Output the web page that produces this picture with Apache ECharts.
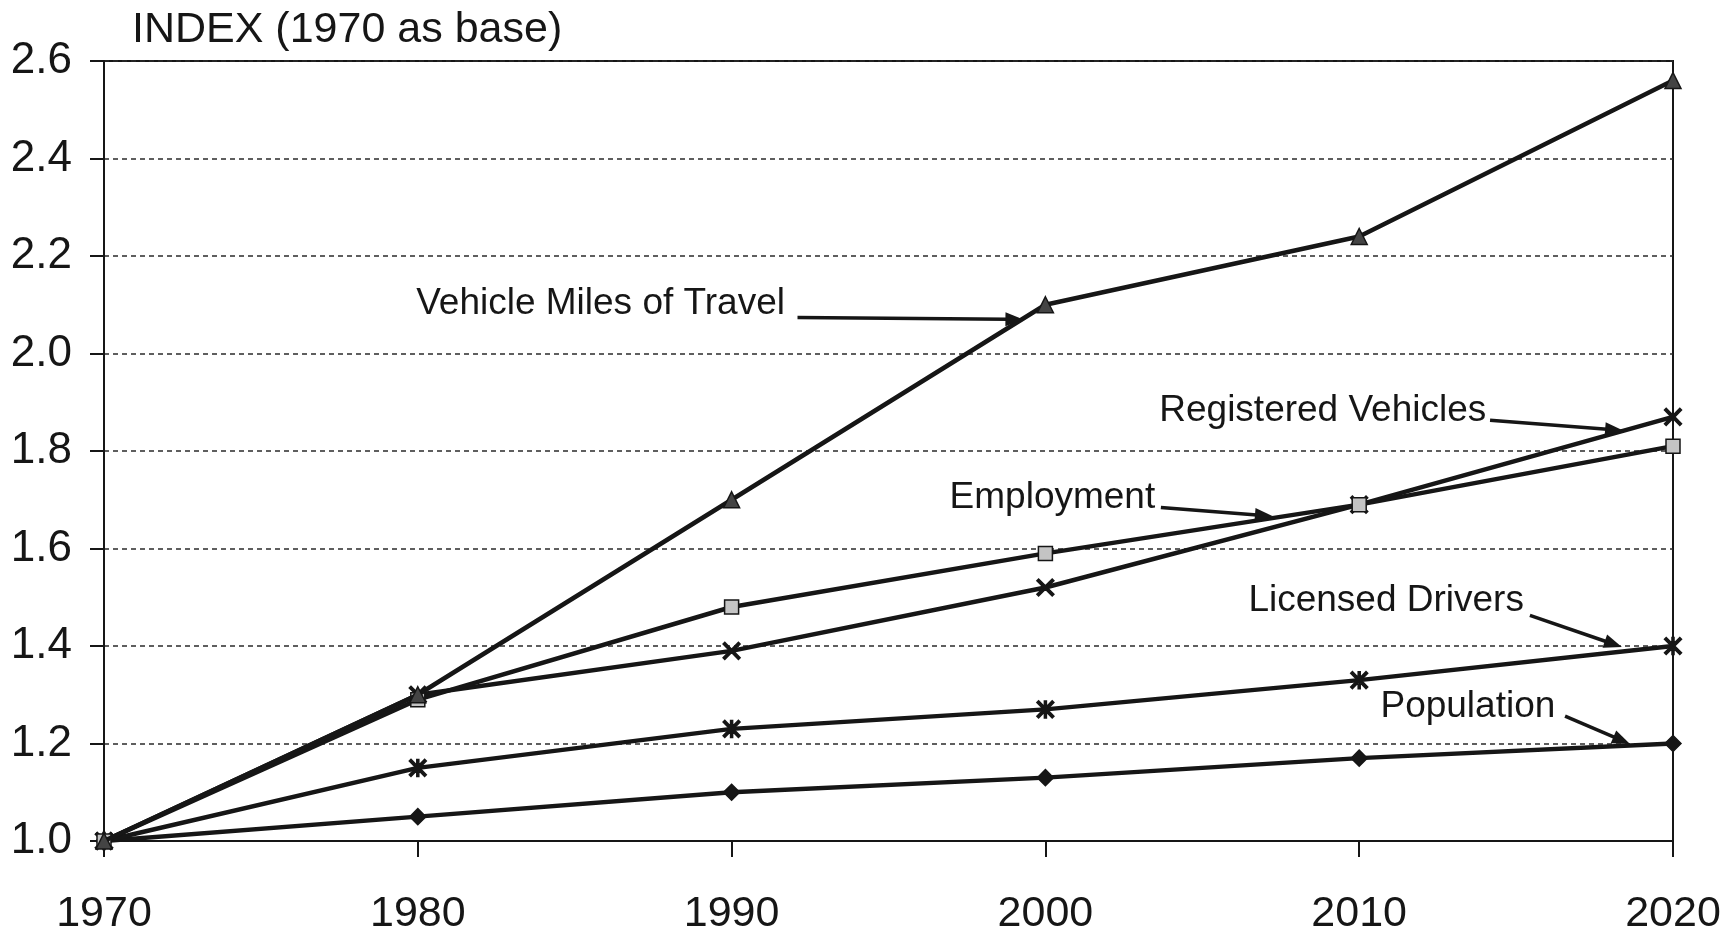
<!DOCTYPE html>
<html>
<head>
<meta charset="utf-8">
<title>Travel Growth Index</title>
<script src="https://cdn.jsdelivr.net/npm/echarts@6/dist/echarts.min.js"></script>
<style>
  html, body { margin: 0; padding: 0; background: #ffffff; }
  #chart { width: 1731px; height: 936px; }
</style>
</head>
<body>
<div id="chart"></div>
<script>
// Index values, 1970 = 1.0
const years = [1970, 1980, 1990, 2000, 2010, 2020];
const vehicleMiles = [1.00, 1.30, 1.70, 2.10, 2.24, 2.56];
const employment   = [1.00, 1.29, 1.48, 1.59, 1.69, 1.81];
const registered   = [1.00, 1.30, 1.39, 1.52, 1.69, 1.87];
const drivers      = [1.00, 1.15, 1.23, 1.27, 1.33, 1.40];
const population   = [1.00, 1.05, 1.10, 1.13, 1.17, 1.20];

const titleText = 'INDEX (1970 as base)';

// Callout labels: text (right-aligned at anchor), arrow from -> to, in data units
const calloutText = ['Vehicle Miles of Travel', 'Registered Vehicles', 'Employment', 'Licensed Drivers', 'Population'];
const calloutAnchor = [[1991.7, 2.102], [2014.05, 1.883], [2003.5, 1.703], [2015.25, 1.492], [2016.25, 1.275]];
const calloutFrom = [[1992.1, 2.074], [2014.17, 1.863], [2003.68, 1.684], [2015.44, 1.463], [2016.56, 1.256]];
const calloutTo   = [[1999.3, 2.070], [2018.41, 1.842], [2007.25, 1.666], [2018.37, 1.398], [2018.63, 1.199]];

const FONT = '"Liberation Sans", Arial, Helvetica, sans-serif';
const INK = '#161616';

const SYM_X = 'path://M0,1 L1,0 L5,4 L9,0 L10,1 L6,5 L10,9 L9,10 L5,6 L1,10 L0,9 L4,5 Z';
const SYM_STAR = 'path://M0,1 L1,0 L5,4 L9,0 L10,1 L6,5 L10,9 L9,10 L5,6 L1,10 L0,9 L4,5 Z M4.4,0 L5.6,0 L5.6,10 L4.4,10 Z';

function pairs(vals) { return years.map((y, i) => [y, vals[i]]); }

function lineSeries(name, vals, symbol, size, fill, z) {
  return {
    name: name,
    type: 'line',
    data: pairs(vals),
    symbol: symbol,
    symbolSize: size,
    showAllSymbol: true,
    z: z,
    lineStyle: { color: INK, width: 4.5 },
    itemStyle: { color: fill, borderColor: INK, borderWidth: 1.5 },
    emphasis: { disabled: true },
    animation: false
  };
}

const chart = echarts.init(document.getElementById('chart'), null, { renderer: 'canvas' });

chart.setOption({
  backgroundColor: '#ffffff',
  animation: false,
  title: {
    text: titleText,
    left: 127,
    top: 4,
    textStyle: { fontFamily: FONT, fontSize: 43, fontWeight: 'normal', color: INK }
  },
  grid: {
    left: 104, right: 58, top: 61, bottom: 94,
    show: true, borderColor: INK, borderWidth: 2, backgroundColor: 'transparent'
  },
  xAxis: {
    type: 'value',
    min: 1970, max: 2020, interval: 10,
    axisLine: { show: true, lineStyle: { color: INK, width: 2 } },
    axisTick: { show: true, length: 16, inside: false, lineStyle: { color: INK, width: 2 } },
    splitLine: { show: false },
    axisLabel: {
      formatter: v => String(v),
      fontFamily: FONT, fontSize: 43, color: INK, margin: 52
    }
  },
  yAxis: {
    type: 'value',
    min: 1.0, max: 2.6, interval: 0.2,
    axisLine: { show: true, lineStyle: { color: INK, width: 2 } },
    axisTick: { show: true, length: 14, inside: false, lineStyle: { color: INK, width: 2 } },
    splitLine: { show: true, lineStyle: { color: '#2a2a2a', width: 1.5, type: [5, 4] } },
    axisLabel: {
      formatter: v => v.toFixed(1),
      fontFamily: FONT, fontSize: 44, color: INK, margin: 32
    }
  },
  series: [
    lineSeries('Population', population, 'diamond', 16, INK, 5),
    lineSeries('Licensed Drivers', drivers, SYM_STAR, 17, INK, 6),
    lineSeries('Registered Vehicles', registered, SYM_X, 17, INK, 7),
    lineSeries('Employment', employment, 'rect', 14, '#c4c4c4', 8),
    lineSeries('Vehicle Miles of Travel', vehicleMiles, 'triangle', 16, '#444444', 9)
  ]
});

// Callout text and arrows, positioned through the grid's coordinate system
function buildCallouts() {
  const toPx = p => chart.convertToPixel({ gridIndex: 0 }, p);
  const elems = [];
  calloutText.forEach((txt, i) => {
    const a = toPx(calloutAnchor[i]);
    const f = toPx(calloutFrom[i]);
    const t = toPx(calloutTo[i]);
    elems.push({
      type: 'text', z: 20,
      style: { text: txt, x: a[0], y: a[1], align: 'right', verticalAlign: 'middle',
               fontFamily: FONT, fontSize: 37, fill: INK }
    });
    const dx = t[0] - f[0], dy = t[1] - f[1];
    const len = Math.sqrt(dx * dx + dy * dy);
    const ux = dx / len, uy = dy / len;
    const headL = 18, headW = 7;
    const bx = t[0] - ux * headL, by = t[1] - uy * headL;
    elems.push({
      type: 'line', z: 20,
      shape: { x1: f[0], y1: f[1], x2: bx + ux * 2, y2: by + uy * 2 },
      style: { stroke: INK, lineWidth: 3.5 }
    });
    elems.push({
      type: 'polygon', z: 20,
      shape: { points: [[t[0], t[1]], [bx - uy * headW, by + ux * headW], [bx + uy * headW, by - ux * headW]] },
      style: { fill: INK }
    });
  });
  chart.setOption({ graphic: elems });
}
buildCallouts();
</script>
</body>
</html>
